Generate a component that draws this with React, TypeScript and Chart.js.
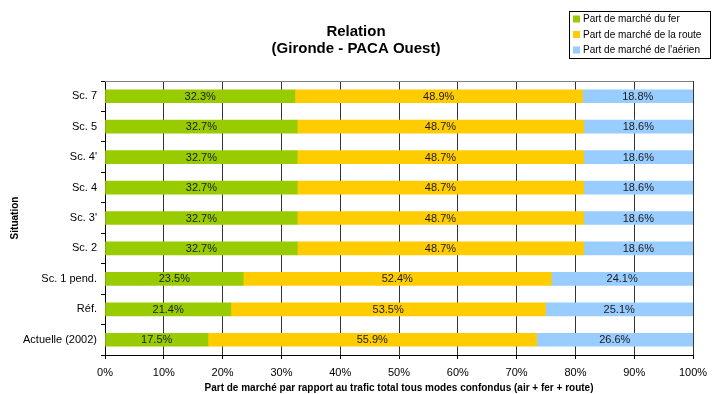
import React, { useEffect, useRef } from "react";
import { Chart, registerables } from "chart.js";

Chart.register(...registerables);

const categories = ["Sc. 7", "Sc. 5", "Sc. 4'", "Sc. 4", "Sc. 3'", "Sc. 2", "Sc. 1 pend.", "Réf.", "Actuelle (2002)"];
const ferValues = [32.3, 32.7, 32.7, 32.7, 32.7, 32.7, 23.5, 21.4, 17.5];
const routeValues = [48.9, 48.7, 48.7, 48.7, 48.7, 48.7, 52.4, 53.5, 55.9];
const aerienValues = [18.8, 18.6, 18.6, 18.6, 18.6, 18.6, 24.1, 25.1, 26.6];
const seriesNames = ["Part de marché du fer", "Part de marché de la route", "Part de marché de l'aérien"];
const seriesColors = ["#99CC00", "#FFCC00", "#99CCFF"];
const titleLines = ["Relation", "(Gironde - PACA Ouest)"];
const xTitle = "Part de marché par rapport au trafic total tous modes confondus (air + fer + route)";
const yTitle = "Situation";

const FONT = "'Liberation Sans', Arial, Helvetica, sans-serif";

const overlayPlugin = {
  id: "overlay",
  afterDatasetsDraw(chart: any) {
    const ctx = chart.ctx;
    const area = chart.chartArea;
    ctx.save();
    // top border
    ctx.strokeStyle = "#808080";
    ctx.lineWidth = 1;
    ctx.beginPath();
    ctx.moveTo(area.left, area.top + 0.5);
    ctx.lineTo(area.right, area.top + 0.5);
    ctx.stroke();
    // value labels
    ctx.font = `11px ${FONT}`;
    ctx.fillStyle = "#1a1a1a";
    ctx.textAlign = "center";
    ctx.textBaseline = "middle";
    chart.data.datasets.forEach((ds: any, di: number) => {
      const meta = chart.getDatasetMeta(di);
      meta.data.forEach((bar: any, i: number) => {
        const v = ds.data[i];
        const cx = (bar.x + bar.base) / 2;
        ctx.fillText(v.toFixed(1) + "%", cx, bar.y + 0.5);
      });
    });
    ctx.restore();
  },
  afterDraw(chart: any) {
    const ctx = chart.ctx;
    ctx.save();
    // title
    ctx.font = `bold 15px ${FONT}`;
    ctx.fillStyle = "#000";
    ctx.textAlign = "center";
    ctx.textBaseline = "middle";
    ctx.fillText(titleLines[0], 356, 32);
    ctx.fillText(titleLines[1], 356, 49);
    // legend
    ctx.fillStyle = "#fff";
    ctx.fillRect(569.5, 11.5, 141, 47);
    ctx.strokeStyle = "#000";
    ctx.lineWidth = 1;
    ctx.strokeRect(569.5, 11.5, 141, 47);
    ctx.font = `10px ${FONT}`;
    ctx.textAlign = "left";
    seriesNames.forEach((name, i) => {
      const y = 19 + i * 15.5;
      ctx.fillStyle = seriesColors[i];
      ctx.fillRect(573, y - 3.5, 7, 7);
      ctx.fillStyle = "#000";
      ctx.fillText(name, 583, y + 0.5);
    });
    ctx.restore();
  },
};

export default function App() {
  const ref = useRef<HTMLCanvasElement>(null);
  useEffect(() => {
    document.body.style.margin = "0";
    const chart = new Chart(ref.current as HTMLCanvasElement, {
      type: "bar",
      data: {
        labels: categories,
        datasets: [ferValues, routeValues, aerienValues].map((d, i) => ({
          label: seriesNames[i],
          data: d,
          backgroundColor: seriesColors[i],
          borderWidth: 0,
          barThickness: 13,
        })),
      },
      options: {
        indexAxis: "y",
        responsive: true,
        maintainAspectRatio: false,
        animation: false,
        layout: { padding: { left: 5, top: 81, right: 19, bottom: 0 } },
        plugins: {
          legend: { display: false },
          title: { display: false },
          tooltip: { enabled: false },
        },
        scales: {
          x: {
            stacked: true,
            min: 0,
            max: 100,
            ticks: {
              stepSize: 10,
              callback: (v: any) => v + "%",
              font: { family: FONT, size: 11 },
              color: "#000",
              padding: 7,
              maxRotation: 0,
            },
            grid: { color: "#333", lineWidth: 1, tickLength: 4, tickColor: "#000" },
            border: { color: "#000", width: 1 },
            title: {
              display: true,
              text: xTitle,
              font: { family: FONT, size: 10, weight: "bold" },
              color: "#000",
              padding: { top: 2, bottom: 0 },
            },
            afterFit: (s: any) => {
              s.height = 39;
              s.paddingLeft = 0;
              s.paddingRight = 0;
            },
          },
          y: {
            stacked: true,
            offset: true,
            ticks: {
              font: { family: FONT, size: 11 },
              color: "#000",
              padding: 4,
            },
            grid: { offset: true, drawOnChartArea: false, tickLength: 4, tickColor: "#000" },
            border: { color: "#000", width: 1 },
            title: {
              display: true,
              text: yTitle,
              font: { family: FONT, size: 10, weight: "bold" },
              color: "#000",
              padding: { top: 4, bottom: 4 },
            },
            afterFit: (s: any) => {
              s.width = 100;
              s.paddingTop = 0;
              s.paddingBottom = 0;
            },
          },
        },
      },
      plugins: [overlayPlugin],
    } as any);
    return () => chart.destroy();
  }, []);
  return (
    <div style={{ position: "relative", width: 712, height: 394 }}>
      <canvas ref={ref} />
    </div>
  );
}
